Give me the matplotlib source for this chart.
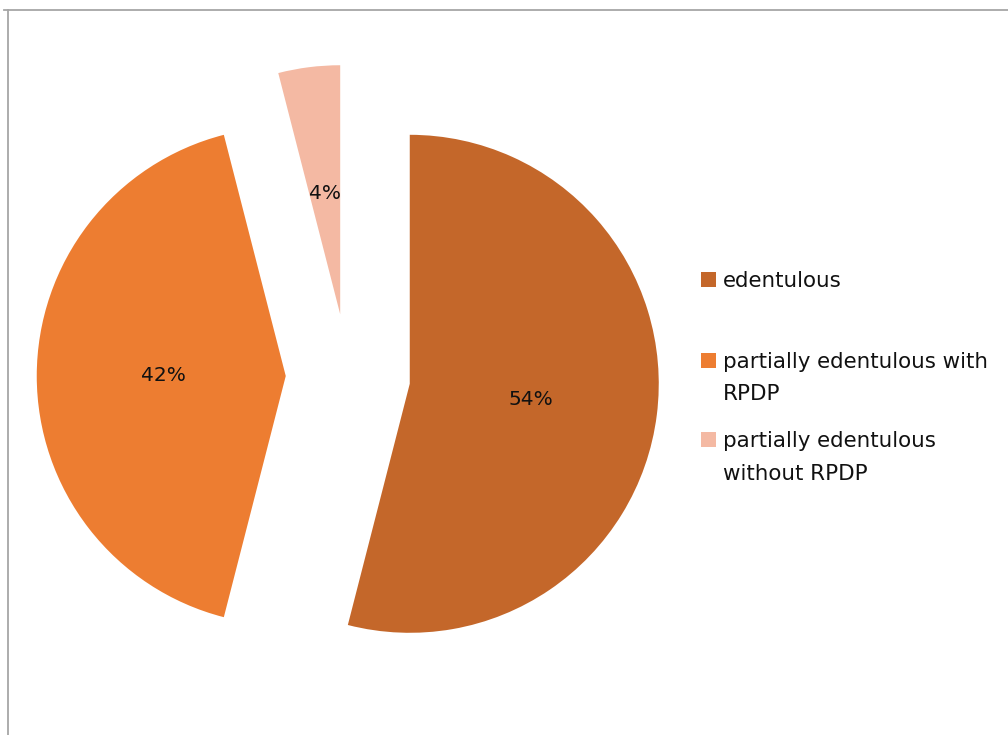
import matplotlib.pyplot as plt
from matplotlib.patches import Rectangle
from matplotlib.lines import Line2D

# Distribuição dos pacientes por estado dentário
categorias = ["edentulous", "partially edentulous with\nRPDP", "partially edentulous\nwithout RPDP"]
percentuais = [54, 42, 4]
cores = ["#C4672A", "#ED7D31", "#F4B9A3"]

W, H = 1008, 735
fig = plt.figure(figsize=(W / 100, H / 100), dpi=100)
fonte = "DejaVu Sans"

# eixo ocupando toda a figura, 1 unidade = raio da pizza em pixels
raio_px = 249
cx, cy = 348, 376
ax = fig.add_axes([0, 0, 1, 1])
ax.pie(
    percentuais,
    colors=cores,
    startangle=90,
    counterclock=False,
    explode=[0.25, 0.25, 0.25],
    autopct="%1.0f%%",
    pctdistance=0.49,
    textprops={"fontsize": 14.5, "family": fonte, "color": "#111111"},
    wedgeprops={"linewidth": 0},
)
ax.set_xlim(-cx / raio_px, (W - cx) / raio_px)
ax.set_ylim(-(H - cy) / raio_px, cy / raio_px)
ax.set_aspect("auto")
ax.axis("off")

# borda da área do gráfico
fig.add_artist(Line2D([4 / W, 1], [1 - 9.5 / H] * 2, color="#A6A6A6", lw=1.3))
fig.add_artist(Line2D([7.5 / W] * 2, [0, 1 - 9.5 / H], color="#A6A6A6", lw=1.3))

# legenda: marcador alinhado com a primeira linha de cada item
base_y = [287, 368, 447]
entrelinha = 32.5
for nome, cor, y in zip(categorias, cores, base_y):
    fig.add_artist(Rectangle((701 / W, 1 - y / H), 15 / W, 15 / H,
                             facecolor=cor, edgecolor="none"))
    for i, linha in enumerate(nome.split("\n")):
        fig.text(723 / W, 1 - (y + i * entrelinha) / H, linha, fontsize=15.4,
                 family=fonte, va="baseline", ha="left", color="#111111")

fig.savefig("out.png", dpi=100)
